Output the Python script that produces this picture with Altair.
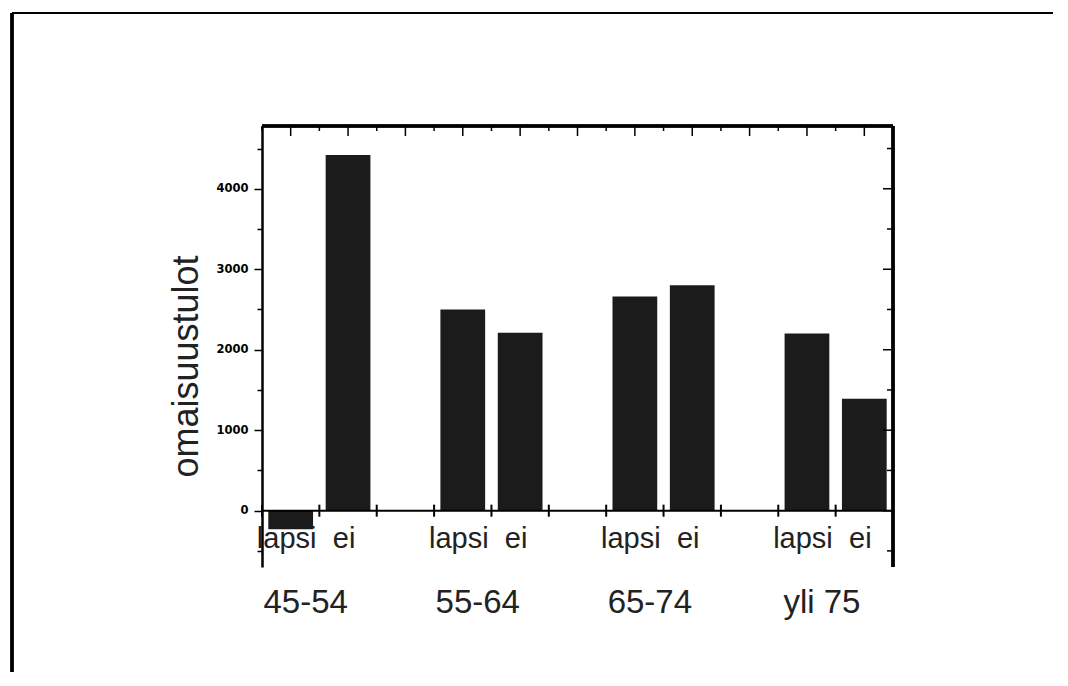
import altair as alt
import pandas as pd

groups = ["45-54", "55-64", "65-74", "yli 75"]
types = ["lapsi", "ei"]
lapsi_vals = [-230, 2500, 2660, 2200]
ei_vals = [4420, 2210, 2800, 1390]
y_major = [0, 1000, 2000, 3000, 4000]
y_minor = [-500, 500, 1500, 2500, 3500, 4500]

W, H = 631, 441
# slots: each group has two bars, separated by one empty slot
slots = []
for i, g in enumerate(groups):
    slots += [f"{g} lapsi", f"{g} ei"]
    if i < len(groups) - 1:
        slots.append(f"gap{i}")
HALF = W / len(slots) / 2

rows = []
for g, lv, ev in zip(groups, lapsi_vals, ei_vals):
    rows.append({"group": g, "type": "lapsi", "slot": f"{g} lapsi", "value": lv})
    rows.append({"group": g, "type": "ei", "slot": f"{g} ei", "value": ev})
df = pd.DataFrame(rows)
slot_df = pd.DataFrame({"slot": slots})
major_df = pd.DataFrame({"value": y_major})
minor_df = pd.DataFrame({"value": y_minor})

xs = alt.Scale(domain=slots, paddingInner=0.22, paddingOuter=0.11)
ys = alt.Scale(domain=[-700, 4780], nice=False)
X = alt.X("slot:N", scale=xs, axis=None)
TEXT_FONT = "Liberation Sans Narrow, Liberation Sans, Arial"

yaxis = alt.Axis(
    values=sorted(y_major + y_minor),
    labelExpr="datum.value % 1000 === 0 ? format(datum.value, 'd') : ''",
    tickSize={"condition": {"test": "datum.value % 1000 === 0", "value": 8}, "value": 5},
    tickColor="black", tickWidth=1.5,
    domainColor="black", domainWidth=2.5,
    labelFont="DejaVu Sans", labelFontSize=11.5, labelFontWeight="bold",
    labelColor="black", labelPadding=6,
    grid=False, zindex=1,
    title="omaisuustulot", titleFont=TEXT_FONT, titleFontSize=36,
    titleFontWeight="normal", titleColor="#222", titlePadding=10, titleY=240,
)
Y = alt.Y("value:Q", scale=ys, axis=yaxis, title="omaisuustulot")

bars = alt.Chart(df).mark_bar(color="#1b1b1b").encode(
    x=X, y=Y, y2=alt.datum(0)
)

zero_line = alt.Chart(major_df[major_df["value"] == 0]).mark_rule(
    color="black", strokeWidth=2
).encode(y=Y, x=alt.value(0), x2=alt.value(W))

top_line = alt.Chart(df).mark_rule(color="black", strokeWidth=2.5).encode(
    x=alt.value(0), x2=alt.value(W), y=alt.value(0)
)
right_line = alt.Chart(df).mark_rule(color="black", strokeWidth=2.5).encode(
    x=alt.value(W), y=alt.value(0), y2=alt.value(H)
)
right_major = alt.Chart(major_df).mark_rule(color="black", strokeWidth=1.5).encode(
    y=Y, x=alt.value(W - 10), x2=alt.value(W)
)
right_minor = alt.Chart(minor_df).mark_rule(color="black", strokeWidth=1.5).encode(
    y=Y, x=alt.value(W - 6), x2=alt.value(W)
)
top_long = alt.Chart(slot_df).mark_rule(color="black", strokeWidth=1.5).encode(
    x=X, y=alt.value(0), y2=alt.value(10)
)
top_short = alt.Chart(slot_df).mark_rule(color="black", strokeWidth=1.5, xOffset=-HALF).encode(
    x=X, y=alt.value(0), y2=alt.value(5)
)
zero_ticks = alt.Chart(slot_df).mark_rule(color="black", strokeWidth=2, xOffset=-HALF).encode(
    x=X, y=alt.value(H * 4780 / 5480 - 6), y2=alt.value(H * 4780 / 5480 + 6)
)

type_labels = alt.Chart(df).mark_text(
    font=TEXT_FONT, fontSize=29, baseline="alphabetic", align="center", dx=-4, color="#222"
).encode(x=X, y=alt.value(422), text="type:N")

group_labels = alt.Chart(df[df["type"] == "lapsi"]).mark_text(
    font=TEXT_FONT, fontSize=33, baseline="alphabetic", align="center", dx=15, color="#222"
).encode(x=X, y=alt.value(487), text="group:N")

frame_left = alt.Chart(df).mark_rule(color="black", strokeWidth=2.5).encode(
    x=alt.value(-250), y=alt.value(-113), y2=alt.value(H + 105)
)
frame_top = alt.Chart(df).mark_rule(color="black", strokeWidth=2).encode(
    x=alt.value(-250), x2=alt.value(W + 160), y=alt.value(-113)
)

chart = alt.layer(
    bars, zero_ticks, zero_line, top_line, right_line, right_major, right_minor,
    top_long, top_short, type_labels, group_labels, frame_left, frame_top
).properties(
    width=W, height=H,
    padding={"left": 254, "top": 118, "right": 160, "bottom": 105},
    autosize=alt.AutoSizeParams(type="none"),
).configure_view(stroke=None)

chart.save("out.html", embed_options={"renderer": "svg", "actions": False})
